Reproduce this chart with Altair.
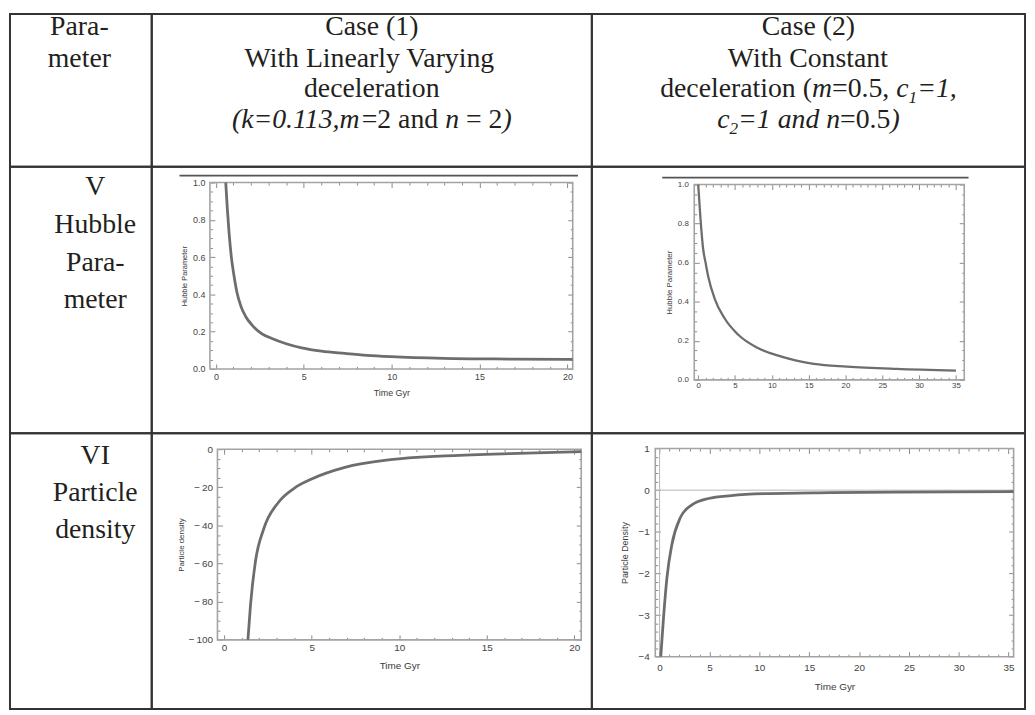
import altair as alt
import pandas as pd

# ---------------- data ----------------
# Row V, Case (1): Hubble parameter vs time
A_T = [0.56, 0.65, 0.75, 0.88, 1.03, 1.2, 1.41, 1.7, 2.07, 2.6, 3.19, 4.0, 4.88, 6.0, 7.33, 8.6, 9.96, 12.97, 16.7, 20.3]
A_V = [1.0, 0.86, 0.73, 0.6, 0.5, 0.41, 0.34, 0.28, 0.234, 0.19, 0.163, 0.135, 0.113, 0.095, 0.083, 0.073, 0.066, 0.057, 0.053, 0.051]
# Row V, Case (2)
B_T = [0.0, 0.3, 0.67, 1.0, 1.35, 2.24, 3.6, 5.4, 8.1, 11.2, 15.7, 20.2, 26.9, 35.0]
B_V = [1.0, 0.83, 0.67, 0.6, 0.53, 0.415, 0.314, 0.232, 0.163, 0.12, 0.082, 0.068, 0.056, 0.047]
# Row VI, Case (1): particle density
C_T = [1.36, 1.51, 1.79, 2.27, 3.12, 4.0, 5.0, 6.9, 9.5, 12.6, 16.3, 20.4]
C_V = [-100, -81.5, -58.9, -41.6, -27.7, -20.5, -15.6, -9.5, -5.5, -3.5, -2.3, -1.3]
# Row VI, Case (2)
D_T = [0.12, 0.4, 0.74, 1.23, 2.06, 3.2, 4.9, 7.2, 10.5, 17.1, 23.7, 35.5]
D_V = [-4.0, -3.05, -2.1, -1.31, -0.67, -0.36, -0.2, -0.13, -0.085, -0.06, -0.045, -0.035]

# table texts: (text, style) with n = normal, i = italic, is = italic subscript
HEAD_PARAM = [[("Para-", "n")], [("meter", "n")]]
HEAD_CASE1 = [
    [("Case (1)", "n")],
    [("With Linearly Varying", "n")],
    [("deceleration", "n")],
    [("(k=0.113,m", "i"), ("=2 and ", "n"), ("n", "i"), (" = 2", "n"), (")", "i")],
]
HEAD_CASE2 = [
    [("Case (2)", "n")],
    [("With Constant", "n")],
    [("deceleration (", "n"), ("m", "i"), ("=0.5, ", "n"), ("c", "i"), ("1", "is"), ("=1,", "i")],
    [("c", "i"), ("2", "is"), ("=1 and n", "i"), ("=0.5", "n"), (")", "i")],
]
ROW1_PARAM = [[("V", "n")], [("Hubble", "n")], [("Para-", "n")], [("meter", "n")]]
ROW2_PARAM = [[("VI", "n")], [("Particle", "n")], [("density", "n")]]

X_TITLE = "Time Gyr"
A_YTITLE = "Hubble Parameter"
B_YTITLE = "Hubble Parameter"
C_YTITLE = "Particle density"
D_YTITLE = "Particle Density"

A_XMAJ = [0, 5, 10, 15, 20]
A_YMAJ = [0.0, 0.2, 0.4, 0.6, 0.8, 1.0]
B_XMAJ = [0, 5, 10, 15, 20, 25, 30, 35]
B_YMAJ = [0.0, 0.2, 0.4, 0.6, 0.8, 1.0]
C_XMAJ = [0, 5, 10, 15, 20]
C_YMAJ = [-100, -80, -60, -40, -20, 0]
D_XMAJ = [0, 5, 10, 15, 20, 25, 30, 35]
D_YMAJ = [-4, -3, -2, -1, 0, 1]

# ---------------- style / layout ----------------
SERIF = "Liberation Serif"
SANS = "Liberation Sans"
INK = "#231f20"
FS = 28
SUB = 0.62
CURVE = "#6d6d6d"
FRAME = "#a3a3a3"
TICK = "#8a8a8a"
LABEL = "#444444"

COL_W = [143, 444, 437]
ROW_H = [154, 269, 278]

HEAD_Y = [13, 45, 76, 107]
ROW1_Y = [21, 59, 97, 135]
ROW2_Y = [23, 60, 98]
HEAD_CX0 = 70
BODY_CX0 = 86

REG = {' ': 250, '(': 333, ')': 333, ',': 250, '-': 333, '.': 250, '=': 564,
       'C': 667, 'H': 722, 'I': 333, 'L': 611, 'P': 556, 'V': 722, 'W': 944,
       'a': 444, 'b': 500, 'c': 444, 'd': 500, 'e': 444, 'g': 500, 'h': 500, 'i': 278,
       'k': 500, 'l': 278, 'm': 778, 'n': 500, 'o': 500, 'r': 333, 's': 389, 't': 278,
       'u': 500, 'y': 500}
ITA = {' ': 250, '(': 333, ')': 333, ',': 250, '.': 250, '=': 675,
       'a': 500, 'c': 444, 'd': 500, 'e': 444, 'k': 444, 'm': 722, 'n': 500}


def seg_width(text, style):
    table = ITA if style.startswith("i") else REG
    size = FS * (SUB if style == "is" else 1)
    return sum(table.get(ch, 500) for ch in text) / 1000.0 * size


def text_cell(lines, ys, w, h, cx=None):
    if cx is None:
        cx = w / 2.0
    rows = []
    for segs, y in zip(lines, ys):
        total = sum(seg_width(t, s) for t, s in segs)
        x = cx - total / 2.0
        for t, s in segs:
            lead = len(t) - len(t.lstrip(" "))
            size = FS * (SUB if s == "is" else 1)
            rows.append({
                "text": t.strip(),
                "x": x + lead * 0.25 * size,
                "y": y + (0.32 * FS if s == "is" else 0),
                "size": size,
                "style": "italic" if s.startswith("i") else "normal",
            })
            x += seg_width(t, s)
    df = pd.DataFrame(rows)
    base = alt.Chart(df).encode(
        x=alt.X("x:Q", scale=None, axis=None),
        y=alt.Y("y:Q", scale=None, axis=None),
        text="text:N",
        size=alt.Size("size:Q", scale=None, legend=None),
    )
    layers = [
        base.transform_filter(f"datum.style == '{st}'").mark_text(
            align="left", baseline="middle", font=SERIF, fontStyle=st, color=INK)
        for st in ("normal", "italic")
    ]
    return alt.layer(*layers).properties(width=w, height=h)


def minor(majors, step, lo, hi):
    vals = []
    v = lo
    while v <= hi + 1e-9:
        if all(abs(v - m) > 1e-6 for m in majors):
            vals.append(round(v, 3))
        v += step
    return vals


def plot_cell(t, v, g, w, h):
    df = pd.DataFrame({"t": t, "v": v})
    one = pd.DataFrame({"a": [0]})
    xs = alt.Scale(domain=g["xdom"], range=g["xr"], nice=False, zero=False)
    ys = alt.Scale(domain=g["ydom"], range=g["yr"], nice=False, zero=False)
    x0, x1 = g["xr"]
    yb, yt = g["yr"]
    LM, Lm = 5, 2.5

    def ax(orient, values, L, **kw):
        if orient == "bottom":
            off = yb - L - h
        elif orient == "top":
            off = -(yt + L)
        elif orient == "left":
            off = -(x0 + L)
        else:
            off = x1 - L - w
        return alt.Axis(orient=orient, values=values, tickSize=L, offset=off,
                        domain=False, grid=False, tickColor=TICK, tickWidth=1, **kw)

    lab = dict(labelFont=SANS, labelColor=LABEL, labelFlush=False, labelOverlap=False,
               titleFont=SANS, titleColor="#3a3a3a", titleFontWeight="normal")
    bx = ax("bottom", g["xmaj"], LM, labels=True, format="d", labelFontSize=g["lfs"],
            labelPadding=g["xlp"], title=g["xtitle"], titleFontSize=g["xtfs"],
            titlePadding=g["xtp"], **lab)
    ly = ax("left", g["ymaj"], LM, labels=True, labelExpr=g["ylabel"], labelFontSize=g["lfs"],
            labelPadding=g["ylp"], title=g["ytitle"], titleFontSize=g["ytfs"],
            titlePadding=g["ytp"], **lab)
    xmin = minor(g["xmaj"], g["xstep"], g["xmaj"][0], g["xmaj"][-1] + g["xstep"] * 0.5)
    ymin = minor(g["ymaj"], g["ystep"], g["ymaj"][0], g["ymaj"][-1])

    frame = alt.Chart(one).mark_rect(fillOpacity=0, stroke=FRAME, strokeWidth=1.6).encode(
        x=alt.XDatum(g["xdom"][0], axis=None), x2=alt.X2Datum(g["xdom"][1]),
        y=alt.YDatum(g["ydom"][0], axis=None), y2=alt.Y2Datum(g["ydom"][1]))
    layers = [frame]
    if g.get("zero_lines"):
        layers.append(alt.Chart(one).mark_rule(color="#b5b5b5", strokeWidth=1).encode(
            x=alt.XDatum(g["xdom"][0], axis=None), x2=alt.X2Datum(g["xdom"][1]),
            y=alt.YDatum(0, axis=None)))
        layers.append(alt.Chart(one).mark_rule(color="#b5b5b5", strokeWidth=1).encode(
            x=alt.XDatum(0, axis=None),
            y=alt.YDatum(g["ydom"][0], axis=None), y2=alt.Y2Datum(g["ydom"][1])))
    if g.get("topline"):
        a, b, c = g["topline"]
        layers.append(alt.Chart(one).mark_rule(color="#555555", strokeWidth=1.8).encode(
            x=alt.value(a), x2=alt.value(b), y=alt.value(c)))

    line = alt.Chart(df).mark_line(color=CURVE, strokeWidth=g["lw"], interpolate="monotone").encode(
        x=alt.X("t:Q", scale=xs, axis=bx), y=alt.Y("v:Q", scale=ys, axis=ly))

    def ghost(xa, ya):
        return alt.Chart(df).mark_line(strokeOpacity=0).encode(
            x=alt.X("t:Q", scale=xs, axis=xa), y=alt.Y("v:Q", scale=ys, axis=ya))

    g1 = ghost(ax("bottom", xmin, Lm, labels=False, title=None),
               ax("left", ymin, Lm, labels=False, title=None))
    g2 = ghost(ax("top", g["xmaj"], LM, labels=False, title=None),
               ax("right", g["ymaj"], LM, labels=False, title=None))
    g3 = ghost(ax("top", xmin, Lm, labels=False, title=None),
               ax("right", ymin, Lm, labels=False, title=None))
    layers += [line, g1, g2, g3]
    return alt.layer(*layers).resolve_axis(x="independent", y="independent").properties(width=w, height=h)


GEO_A = dict(xdom=[-0.34, 20.3], xr=[58.7, 424.7], ydom=[0, 1], yr=[204, 16],
             xmaj=A_XMAJ, ymaj=A_YMAJ, xstep=1, ystep=0.05, lw=2.8, lfs=9,
             xlp=4, ylp=5, xtitle=X_TITLE, xtfs=9, xtp=7, ytitle=A_YTITLE, ytfs=7.5, ytp=4,
             ylabel="format(datum.value, '.1f')", topline=(28, 430, 9))
GEO_B = dict(xdom=[-0.54, 36.13], xr=[103.3, 375.7], ydom=[0, 1], yr=[215, 18],
             xmaj=B_XMAJ, ymaj=B_YMAJ, xstep=1, ystep=0.05, lw=2.3, lfs=8,
             xlp=2, ylp=6, xtitle=None, xtfs=8, xtp=4, ytitle=B_YTITLE, ytfs=8, ytp=4,
             ylabel="format(datum.value, '.1f')", topline=(71, 380, 11))
GEO_C = dict(xdom=[-0.38, 20.4], xr=[66.3, 433.3], ydom=[-100, 0], yr=[208.3, 16],
             xmaj=C_XMAJ, ymaj=C_YMAJ, xstep=1, ystep=5, lw=2.8, lfs=10,
             xlp=3, ylp=5, xtitle=X_TITLE, xtfs=10, xtp=8, ytitle=C_YTITLE, ytfs=8, ytp=3,
             ylabel="datum.value < 0 ? '\u2212\u2009' + format(-datum.value, 'd') : format(datum.value, 'd')")
GEO_D = dict(xdom=[-0.43, 35.5], xr=[64, 425.5], ydom=[-4, 1], yr=[225.3, 15.3],
             xmaj=D_XMAJ, ymaj=D_YMAJ, xstep=1, ystep=0.2, lw=2.8, lfs=10,
             xlp=6, ylp=6, xtitle=X_TITLE, xtfs=10, xtp=9, ytitle=D_YTITLE, ytfs=9, ytp=9,
             ylabel="format(datum.value, 'd')", zero_lines=True)

cells = [
    text_cell(HEAD_PARAM, HEAD_Y, COL_W[0], ROW_H[0], HEAD_CX0),
    text_cell(HEAD_CASE1, HEAD_Y, COL_W[1], ROW_H[0]),
    text_cell(HEAD_CASE2, HEAD_Y, COL_W[2], ROW_H[0]),
    text_cell(ROW1_PARAM, ROW1_Y, COL_W[0], ROW_H[1], BODY_CX0),
    plot_cell(A_T, A_V, GEO_A, COL_W[1], ROW_H[1]),
    plot_cell(B_T, B_V, GEO_B, COL_W[2], ROW_H[1]),
    text_cell(ROW2_PARAM, ROW2_Y, COL_W[0], ROW_H[2], BODY_CX0),
    plot_cell(C_T, C_V, GEO_C, COL_W[1], ROW_H[2]),
    plot_cell(D_T, D_V, GEO_D, COL_W[2], ROW_H[2]),
]

chart = alt.concat(*cells, columns=3, spacing=0, bounds="flush").properties(
    padding={"left": 1, "top": 1, "right": 1, "bottom": 1},
    background="white",
).configure_view(stroke="#333333", strokeWidth=2)

chart.save("out.html", embed_options={"renderer": "svg", "actions": False})
